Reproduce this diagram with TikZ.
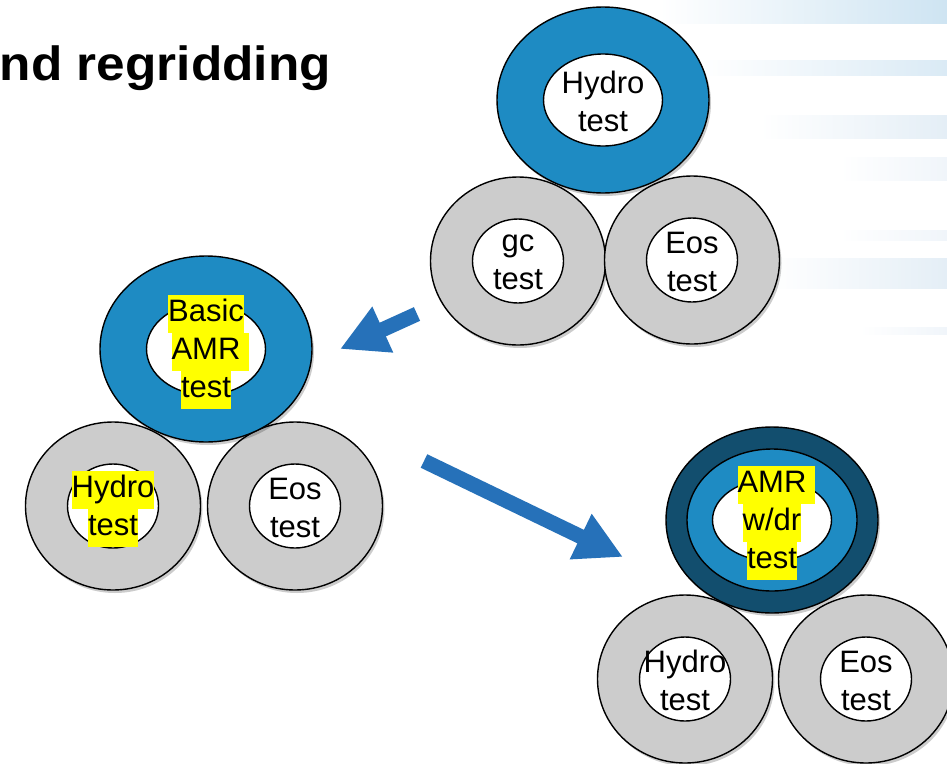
\documentclass[tikz,border=0pt]{standalone}
\usepackage{fontspec}
\setmainfont{Liberation Sans}
\usetikzlibrary{shapes.geometric,arrows.meta,shadows}
\definecolor{ringblue}{RGB}{30,139,195}
\definecolor{ringdark}{RGB}{18,78,110}
\definecolor{ringgray}{RGB}{204,204,204}
\definecolor{arrowblue}{RGB}{38,113,185}
\definecolor{hlyellow}{RGB}{255,255,0}
\definecolor{stripeA}{RGB}{206,228,242}
\definecolor{stripeB}{RGB}{218,234,245}
\definecolor{stripeC}{RGB}{228,238,246}
\definecolor{stripeD}{RGB}{240,245,250}
\newcommand{\hlbox}[1]{{\setlength{\fboxsep}{0pt}\colorbox{hlyellow}{\strut #1}}}
\newcommand{\hlboxsp}[1]{\hlbox{#1}\rlap{\hlbox{\ }}}
\begin{document}
\begin{tikzpicture}[x=1pt,y=-1pt,
  shadowed/.style={drop shadow={shadow xshift=2pt,shadow yshift=-3pt,opacity=0.2,fill=black}},
  bigring/.style={ellipse,draw=black,line width=1.4pt,inner sep=0pt,minimum width=212pt,minimum height=186pt,fill=ringblue,shadowed},
  darkring/.style={bigring,fill=ringdark},
  midring/.style={ellipse,draw=black,line width=1.4pt,inner sep=0pt,minimum width=170pt,minimum height=142pt,fill=ringblue},
  bighole/.style={ellipse,draw=black,line width=1.4pt,inner sep=0pt,minimum width=119pt,minimum height=92pt,fill=white},
  grayring/.style={ellipse,draw=black,line width=1.4pt,inner sep=0pt,minimum width=175pt,minimum height=168pt,fill=ringgray,shadowed},
  grayhole/.style={ellipse,draw=black,line width=1.4pt,inner sep=0pt,minimum width=91pt,minimum height=84pt,fill=white},
  lbl/.style={align=center,inner sep=0pt,font=\fontsize{31}{38}\selectfont,text=black,yshift=-1.5pt},
  hllbl/.style={align=center,inner sep=0pt,font=\fontsize{31}{38}\selectfont,text=black,yshift=-3pt},
  titlestyle/.style={inner sep=0pt,font=\fontsize{48}{56}\selectfont\bfseries,text=black},
  bigarrow/.style={draw=arrowblue,line width=15pt,-{Triangle[length=47pt,width=47pt]}}
]
\useasboundingbox (0,0) rectangle (947,763);
\clip (0,0) rectangle (947,763);
\fill[white] (0,0) rectangle (947,763);

% background stripes
\shade[left color=white,right color=stripeA] (660,0) rectangle (947,23);
\shade[left color=white,right color=stripeB] (700,60) rectangle (947,75);
\shade[left color=white,right color=stripeC] (760,115) rectangle (947,138);
\shade[left color=white,right color=stripeD] (840,157) rectangle (947,180);
\shade[left color=white,right color=stripeD] (840,230) rectangle (947,240);
\shade[left color=white,right color=stripeC] (770,258) rectangle (947,288);
\shade[left color=white,right color=stripeD] (860,327) rectangle (947,334);

% title
\node[titlestyle,anchor=base east] (title) at (331,80) {\scalebox{1.07}[1]{nd regridding}};

% ---- top group
\node[grayring] (gcTo) at (518,261) {};
\node[grayhole] (gcTi) at (gcTo.center) {};
\node[lbl] (gcTt) at (gcTo.center) {gc\\test};
\node[grayring] (eosTo) at (692,260) {};
\node[grayhole] (eosTi) at (eosTo.center) {};
\node[lbl] (eosTt) at (eosTo.center) {Eos\\test};
\node[bigring] (hydTo) at (603,100) {};
\node[bighole] (hydTi) at (hydTo.center) {};
\node[lbl] (hydTt) at (hydTo.center) {Hydro\\test};

% ---- left group
\node[grayring] (hydLo) at (113,506) {};
\node[grayhole] (hydLi) at (hydLo.center) {};
\node[hllbl] (hydLt) at (hydLo.center) {\hlbox{Hydro}\\\hlbox{test}};
\node[grayring] (eosLo) at (295,506) {};
\node[grayhole] (eosLi) at (eosLo.center) {};
\node[lbl] (eosLt) at (eosLo.center) {Eos\\test};
\node[bigring] (basLo) at (206,349) {};
\node[bighole] (basLi) at (basLo.center) {};
\node[hllbl] (basLt) at (basLo.center) {\hlbox{Basic}\\\hlboxsp{AMR}\\\hlbox{test}};

% ---- right group
\node[grayring] (hydRo) at (685,679) {};
\node[grayhole] (hydRi) at (hydRo.center) {};
\node[lbl] (hydRt) at (hydRo.center) {Hydro\\test};
\node[grayring] (eosRo) at (866,679) {};
\node[grayhole] (eosRi) at (eosRo.center) {};
\node[lbl] (eosRt) at (eosRo.center) {Eos\\test};
\node[darkring] (amrRo) at (772,520) {};
\node[midring] (amrRm) at (amrRo.center) {};
\node[bighole,minimum height=82pt] (amrRi) at (amrRo.center) {};
\node[hllbl] (amrRt) at (amrRo.center) {\hlboxsp{AMR}\\\hlbox{w/dr}\\\hlbox{test}};

% ---- arrows
\coordinate (a1s) at (417,314);
\coordinate (a1e) at (340,349);
\draw[bigarrow] (a1s) -- (a1e);
\coordinate (a2s) at (424,461);
\coordinate (a2e) at (623,557);
\draw[bigarrow] (a2s) -- (a2e);
\end{tikzpicture}
\end{document}
